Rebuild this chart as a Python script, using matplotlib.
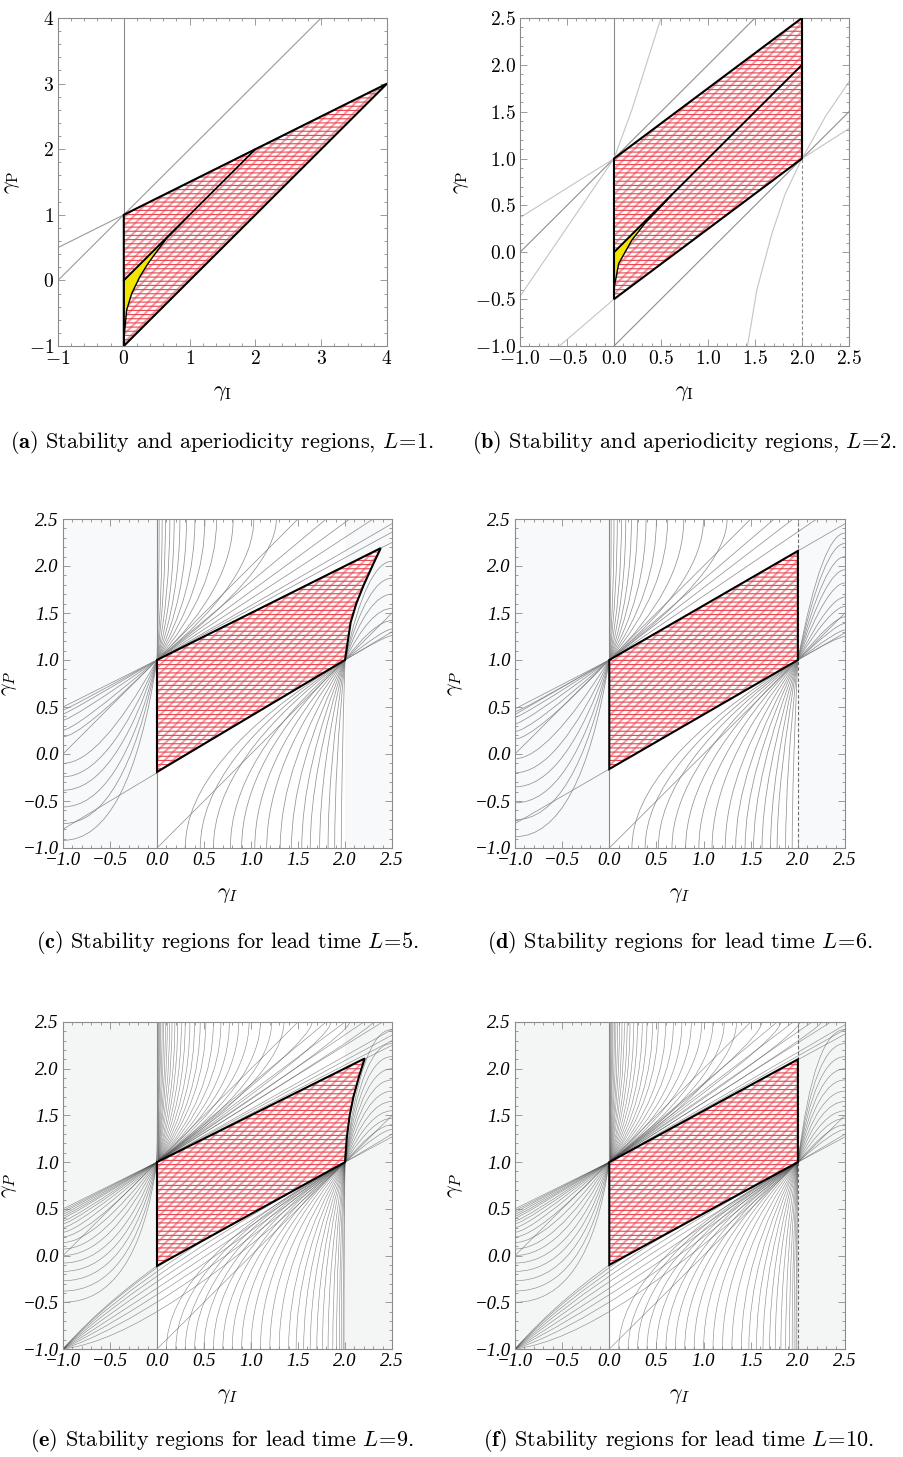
"""Stability regions in the (gamma_I, gamma_P) plane for several lead times L.

Six panels: (a),(b) stability + aperiodicity for L=1,2 and (c)-(f) stability
regions for L=5,6,9,10 with the background families of boundary curves.
"""

import matplotlib

matplotlib.use("Agg")
import matplotlib.pyplot as plt
import numpy as np
from matplotlib.font_manager import FontProperties
from matplotlib.patches import PathPatch, Polygon, Rectangle
from matplotlib.path import Path
from matplotlib.ticker import MultipleLocator, ScalarFormatter

plt.rcParams["font.family"] = "serif"
plt.rcParams["font.serif"] = ["cmr10", "DejaVu Serif"]
plt.rcParams["mathtext.fontset"] = "cm"
plt.rcParams["axes.formatter.use_mathtext"] = True

# ---------------- (a) L = 1 ----------------
A_REGION_X = [0, 4, 0]
A_REGION_Y = [1, 3, -1]
A_INNER_X = [0, 2]
A_INNER_Y = [0, 2]
A_APER_X = [0, 0.005, 0.044, 0.12, 0.246, 0.37, 0.5, 0.65, 0.8, 1.0]
A_APER_Y = [-1, -0.85, -0.45, -0.2, 0.06, 0.26, 0.44, 0.64, 0.79, 1.0]
A_LINES = [(-1, 0, 3, 4), (-1, 0.5, 0, 1)]
A_TICKS = [-1, 0, 1, 2, 3, 4]

# ---------------- (b) L = 2 ----------------
B_REGION_X = [0, 2, 2, 0]
B_REGION_Y = [1, 2.5, 1, -0.5]
B_INNER_X = [0, 2]
B_INNER_Y = [0, 2]
B_APER_X = [0, 0.005, 0.05, 0.19, 0.33, 0.475, 0.62]
B_APER_Y = [-0.5, -0.36, -0.12, 0.13, 0.31, 0.46, 0.62]
B_LINES = [(-1, 0, 1.5, 2.5), (0, -1, 2.5, 1.5)]
B_LIGHT = [(-1, 0.37, 0, 1), (-0.58, -1, 0, -0.5), (2, 1, 2.5, 1.32)]
B_CURVE1_X = [-1, 0, 0.19, 0.5]
B_CURVE1_Y = [-0.47, 1, 1.52, 2.5]
B_CURVE2_X = [1.42, 1.52, 1.68, 1.82, 2, 2.25, 2.5]
B_CURVE2_Y = [-1, -0.4, 0.2, 0.62, 1, 1.45, 1.82]

TICKS_HALF = [-1.0, -0.5, 0.0, 0.5, 1.0, 1.5, 2.0, 2.5]

# ---------------- (c) L = 5 ----------------
C_REGION_X = [0, 2.38, 2.3, 2.2, 2.12, 2.06, 2.03, 2.0, 0]
C_REGION_Y = [1, 2.19, 2.02, 1.8, 1.6, 1.4, 1.2, 1.0, -0.19]
C_LINES = [(0, 1, 2.5, 2.25), (0, 1, 2.5, 2.36), (0, 1, 2.5, 2.45), (0, 1, 2.3, 2.5),
           (0, 1, 2.05, 2.5), (0, 1, 1.8, 2.5), (-1, 0, 1.5, 2.5), (-1, 0.5, 0, 1),
           (0, -1, 2.5, 1.5), (-1, -0.8, 2.5, 1.3)]
C_UP_X = [0.023, 0.055, 0.09, 0.137, 0.183, 0.244, 0.315, 0.404, 0.51, 0.635, 0.81, 1.03, 1.27]
C_UP_S = [30, 13, 8, 5, 3.6, 2.7, 2.1, 1.7, 1.4, 1.15, 0.95, 0.82, 0.75]
C_LEFT_Y = [0.467, 0.425, 0.36, 0.254, 0.183, -0.1, -0.243, -0.386, -0.563, -0.741, -0.919]
C_LEFT_S = [0.55, 0.6, 0.7, 0.85, 1.0, 1.8, 2.4, 3.1, 4.0, 5.0, 6.5]
C_DOWN_X = [0.30, 0.46, 0.60, 0.78, 0.90, 1.04, 1.167, 1.31, 1.43, 1.54, 1.63, 1.73, 1.82, 1.89, 1.96]
C_DOWN_S = [0.62, 0.68, 0.75, 0.85, 0.95, 1.1, 1.3, 1.6, 2.0, 2.5, 3.2, 4.2, 6, 10, 30]
C_RIGHT_Y = [1.26, 1.33, 1.42, 1.55, 1.7, 1.87, 2.05]
C_RIGHT_S = [0.6, 0.8, 1.3, 2.0, 2.8, 3.6, 4.5]

# ---------------- (d) L = 6 ----------------
D_REGION_X = [0, 2, 2, 0]
D_REGION_Y = [1, 2.16, 1, -0.16]
D_LINES = [(0, 1, 2.5, 2.45), (0, 1, 2.2, 2.5), (0, 1, 1.95, 2.5), (0, 1, 1.75, 2.5),
           (-1, 0, 1.5, 2.5), (-1, 0.42, 0, 1), (-1, 0.48, 0, 1),
           (0, -1, 2.5, 1.5), (-1, -0.74, 2.5, 1.29)]
D_UP_X = [0.02, 0.05, 0.085, 0.13, 0.175, 0.235, 0.3, 0.39, 0.5, 0.62, 0.79, 1.0, 1.25]
D_UP_S = [35, 14, 8.5, 5.3, 3.8, 2.8, 2.2, 1.75, 1.42, 1.18, 0.97, 0.84, 0.76]
D_LEFT_Y = [0.45, 0.39, 0.32, 0.24, 0.16, -0.05, -0.2, -0.35, -0.52, -0.7, -0.88]
D_LEFT_S = [0.58, 0.65, 0.75, 0.9, 1.05, 1.6, 2.2, 2.9, 3.8, 4.8, 6.2]
D_DOWN_X = [0.24, 0.38, 0.52, 0.665, 0.81, 0.95, 1.09, 1.23, 1.34, 1.44, 1.53, 1.62, 1.71, 1.78, 1.87, 1.94]
D_DOWN_S = [0.62, 0.68, 0.74, 0.82, 0.92, 1.05, 1.22, 1.45, 1.75, 2.1, 2.6, 3.3, 4.3, 5.8, 9, 20]
D_RIGHT_Y = [1.25, 1.32, 1.39, 1.46, 1.57, 1.67, 1.82, 1.96, 2.1, 2.24, 2.35]
D_RIGHT_S = [0.6, 0.75, 0.95, 1.2, 1.6, 2.0, 2.6, 3.2, 3.8, 4.5, 5.2]

# ---------------- (e) L = 9 ----------------
E_REGION_X = [0, 2.21, 2.15, 2.09, 2.05, 2.02, 2.0, 0]
E_REGION_Y = [1, 2.11, 1.92, 1.70, 1.5, 1.27, 1.0, -0.11]
E_LINES = [(0, 1, 2.5, 2.25), (0, 1, 2.5, 2.3), (0, 1, 2.5, 2.36), (0, 1, 2.5, 2.42),
           (0, 1, 2.4, 2.5), (0, 1, 2.2, 2.5), (0, 1, 2.0, 2.5), (0, 1, 1.8, 2.5),
           (-1, 0, 1.5, 2.5), (-1, 0.5, 0, 1), (-1, 0.48, 0, 1), (-1, 0.46, 0, 1),
           (0, -1, 2.5, 1.5), (2, 1, 2.5, 1.27), (2, 1, 2.5, 1.3)]
E_UP_X = [0.005, 0.012, 0.02, 0.03, 0.04, 0.055, 0.07, 0.09, 0.11, 0.135, 0.16, 0.19, 0.22,
          0.26, 0.3, 0.35, 0.4, 0.46, 0.52, 0.6, 0.68, 0.77, 0.87, 0.98, 1.1, 1.22, 1.35,
          1.65, 1.85, 2.05, 2.3]
E_UP_S = [100, 60, 40, 28, 20, 15, 11, 8.5, 7, 5.5, 4.5, 3.7, 3.1, 2.6, 2.2, 1.9, 1.65,
          1.45, 1.3, 1.15, 1.05, 0.95, 0.88, 0.82, 0.77, 0.73, 0.7, 0.78, 0.7, 0.66, 0.62]
E_LEFT_Y = [0.44, 0.42, 0.40, 0.37, 0.34, 0.30, 0.25, 0.2, 0.14, 0.07, 0.0, -0.08, -0.17,
            -0.27, -0.38, -0.5]
E_LEFT_S = [0.57, 0.6, 0.63, 0.68, 0.73, 0.8, 0.9, 1.05, 1.3, 1.6, 2.0, 2.6, 3.3, 4.2, 5.5, 7]
E_DOWN_X = [0.1, 0.2, 0.3, 0.4, 0.5, 0.6, 0.7, 0.8, 0.9, 1.0, 1.1, 1.2, 1.3, 1.4, 1.48, 1.56,
            1.63, 1.7, 1.76, 1.82, 1.87, 1.91, 1.94, 1.96, 1.98, 1.99]
E_DOWN_S = [0.56, 0.58, 0.6, 0.63, 0.66, 0.7, 0.75, 0.8, 0.87, 0.95, 1.05, 1.2, 1.4, 1.65,
            1.95, 2.3, 2.8, 3.4, 4.2, 5.5, 7, 9, 13, 20, 40, 80]
E_RIGHT_Y = [1.35, 1.4, 1.47, 1.55, 1.65, 1.76, 1.88, 2.0, 2.13, 2.27, 2.42]
E_RIGHT_S = [0.9, 1.2, 1.6, 2.1, 2.7, 3.4, 4.2, 5, 6, 7, 8]
E_CORNER_Y = [-0.6, -0.5, -0.42, -0.35, -0.28, -0.22, -0.17, -0.13, -0.11]

# ---------------- (f) L = 10 ----------------
F_REGION_X = [0, 2, 2, 0]
F_REGION_Y = [1, 2.1, 1, -0.1]
F_LINES = [(0, 1, 2.5, 2.37), (0, 1, 2.5, 2.42), (0, 1, 2.5, 2.47), (0, 1, 2.35, 2.5),
           (0, 1, 2.15, 2.5), (0, 1, 1.95, 2.5), (0, 1, 1.78, 2.5),
           (-1, 0, 1.5, 2.5), (-1, 0.5, 0, 1), (-1, 0.48, 0, 1), (-1, 0.46, 0, 1),
           (0, -1, 2.5, 1.5), (2, 1, 2.5, 1.27), (2, 1, 2.5, 1.3)]
F_UP_X = [0.005, 0.012, 0.02, 0.03, 0.04, 0.055, 0.07, 0.09, 0.11, 0.135, 0.16, 0.19, 0.22,
          0.26, 0.3, 0.35, 0.4, 0.46, 0.52, 0.6, 0.68, 0.77, 0.87, 0.98, 1.1, 1.22, 1.35,
          1.62, 1.82, 2.02, 2.25]
F_UP_S = [100, 60, 40, 28, 20, 15, 11, 8.5, 7, 5.5, 4.5, 3.7, 3.1, 2.6, 2.2, 1.9, 1.65,
          1.45, 1.3, 1.15, 1.05, 0.95, 0.88, 0.82, 0.77, 0.73, 0.7, 0.8, 0.72, 0.67, 0.63]
F_LEFT_Y = [0.44, 0.42, 0.40, 0.37, 0.34, 0.30, 0.25, 0.2, 0.14, 0.07, 0.0, -0.08, -0.17,
            -0.27, -0.38, -0.5]
F_LEFT_S = [0.57, 0.6, 0.63, 0.68, 0.73, 0.8, 0.9, 1.05, 1.3, 1.6, 2.0, 2.6, 3.3, 4.2, 5.5, 7]
F_DOWN_X = [0.1, 0.2, 0.3, 0.4, 0.5, 0.6, 0.7, 0.8, 0.9, 1.0, 1.1, 1.2, 1.3, 1.4, 1.48, 1.56,
            1.63, 1.7, 1.76, 1.82, 1.87, 1.91, 1.94, 1.96, 1.98, 1.99]
F_DOWN_S = [0.56, 0.58, 0.6, 0.63, 0.66, 0.7, 0.75, 0.8, 0.87, 0.95, 1.05, 1.2, 1.4, 1.65,
            1.95, 2.3, 2.8, 3.4, 4.2, 5.5, 7, 9, 13, 20, 40, 80]
F_RIGHT_Y = [1.35, 1.4, 1.47, 1.55, 1.65, 1.76, 1.88, 2.0, 2.13, 2.27, 2.42]
F_RIGHT_S = [0.9, 1.2, 1.6, 2.1, 2.7, 3.4, 4.2, 5, 6, 7, 8]
F_CORNER_Y = [-0.6, -0.5, -0.42, -0.35, -0.28, -0.22, -0.17, -0.13, -0.1]

CAPTIONS = [
    r"$\mathbf{(a)}$ Stability and aperiodicity regions, $L\!=\!1$.",
    r"$\mathbf{(b)}$ Stability and aperiodicity regions, $L\!=\!2$.",
    r"$\mathbf{(c)}$ Stability regions for lead time $L\!=\!5$.",
    r"$\mathbf{(d)}$ Stability regions for lead time $L\!=\!6$.",
    r"$\mathbf{(e)}$ Stability regions for lead time $L\!=\!9$.",
    r"$\mathbf{(f)}$ Stability regions for lead time $L\!=\!10$.",
]

FRAME = "#8c8c8c"
PIV_A = (0.0, 1.0)
PIV_B = (2.0, 1.0)


def fan(ax, pivot, ends_x, ends_y, slopes, kind, **kw):
    """Quadratic curves leaving the pivot with the given slope and ending at the edge."""
    px, py = pivot
    for ex, ey, s in zip(ends_x, ends_y, slopes):
        if kind == "h":
            cx, cy = ex, py + s * (ex - px)
            if abs(cy - py) > abs(ey - py):
                cy = ey
        else:
            cx, cy = px + (ey - py) / s, ey
            if abs(cx - px) > abs(ex - px):
                cx = ex
        path = Path([(px, py), (cx, cy), (ex, ey)], [Path.MOVETO, Path.CURVE3, Path.CURVE3])
        ax.add_patch(PathPatch(path, fill=False, zorder=1, **kw))


def corner_fan(ax, ys, **kw):
    """Curves from (-1,-1) to (2,1) crossing x=0 at the given heights."""
    for y0 in ys:
        yc = (y0 + 0.172) / 0.485
        path = Path([(-1, -1), (0, yc), (2, 1)], [Path.MOVETO, Path.CURVE3, Path.CURVE3])
        ax.add_patch(PathPatch(path, fill=False, zorder=1, **kw))


def segments(ax, segs, **kw):
    for x0, y0, x1, y1 in segs:
        ax.plot([x0, x1], [y0, y1], zorder=1, **kw)


def hatched_region(ax, xs, ys):
    xy = np.column_stack([xs, ys])
    p1 = Polygon(xy, closed=True, facecolor="white", edgecolor="#f39aa1",
                 hatch="////", lw=0, zorder=2)
    p2 = Polygon(xy, closed=True, facecolor="none", edgecolor="#e9444f",
                 hatch="----", lw=0, zorder=2.1)
    for p, hw in ((p1, 1.5), (p2, 0.8)):
        if hasattr(p, "set_hatch_linewidth"):
            p.set_hatch_linewidth(hw)
        ax.add_patch(p)
    ax.add_patch(Polygon(xy, closed=True, fill=False, edgecolor="black", lw=1.5, zorder=4))


def style_axes(ax, lims, ticks, minor, italic, ylab_x):
    ax.set_xlim(*lims)
    ax.set_ylim(*lims)
    ax.set_xticks(ticks)
    ax.set_yticks(ticks)
    ax.xaxis.set_minor_locator(MultipleLocator(minor))
    ax.yaxis.set_minor_locator(MultipleLocator(minor))
    for s in ax.spines.values():
        s.set_color(FRAME)
        s.set_linewidth(0.8)
    ax.tick_params(which="both", direction="in", top=True, right=True, color=FRAME, width=0.6)
    ax.tick_params(which="major", length=5)
    ax.tick_params(which="minor", length=2.5)
    if italic:
        for axis in (ax.xaxis, ax.yaxis):
            axis.set_major_formatter(ScalarFormatter(useMathText=False))
        fp = FontProperties(family="Liberation Serif", style="italic", size=13.5)
        for t in ax.get_xticklabels() + ax.get_yticklabels():
            t.set_fontproperties(fp)
        ax.tick_params(which="major", pad=3)
        ax.set_xlabel(r"$\gamma_I$", fontsize=16)
        ax.set_ylabel(r"$\gamma_P$", fontsize=16)
    else:
        ax.tick_params(labelsize=14, pad=3)
        ax.set_xlabel(r"$\gamma_\mathrm{I}$", fontsize=16)
        ax.set_ylabel(r"$\gamma_\mathrm{P}$", fontsize=16)
    ax.xaxis.set_label_coords(0.5, -0.115)
    ax.yaxis.set_label_coords(ylab_x, 0.5)


def aperiodic(ax, xs, ys):
    xy = np.column_stack([xs + [0], ys + [0]])
    ax.add_patch(Polygon(xy, closed=True, facecolor="#f2e600", edgecolor="black",
                         lw=1.0, zorder=3))


def main():
    fig = plt.figure(figsize=(9.04, 14.57), dpi=100)
    rects = [
        [58 / 904, 1 - 346 / 1457, 329 / 904, 328 / 1457],
        [520 / 904, 1 - 346 / 1457, 329 / 904, 328 / 1457],
        [63 / 904, 1 - 848 / 1457, 329 / 904, 329 / 1457],
        [515 / 904, 1 - 848 / 1457, 330 / 904, 329 / 1457],
        [63 / 904, 1 - 1349 / 1457, 329 / 904, 327 / 1457],
        [515 / 904, 1 - 1349 / 1457, 330 / 904, 327 / 1457],
    ]
    axs = [fig.add_axes(r) for r in rects]

    # (a)
    ax = axs[0]
    ax.axvline(0, color="#8a8a8a", lw=0.8, zorder=1)
    segments(ax, A_LINES, color="#9a9a9a", lw=0.8)
    hatched_region(ax, A_REGION_X, A_REGION_Y)
    aperiodic(ax, A_APER_X, A_APER_Y)
    ax.plot(A_INNER_X, A_INNER_Y, color="black", lw=1.3, zorder=4)
    style_axes(ax, (-1, 4), A_TICKS, 0.2, False, -0.11)

    # (b)
    ax = axs[1]
    ax.axvline(0, color="#8a8a8a", lw=0.8, zorder=1)
    ax.axvline(2, color="#8a8a8a", lw=0.8, ls=(0, (3, 2)), zorder=1)
    segments(ax, B_LINES, color="#8f8f8f", lw=0.8)
    segments(ax, B_LIGHT, color="#c4c4c4", lw=0.8)
    ax.plot(B_CURVE1_X, B_CURVE1_Y, color="#c4c4c4", lw=0.8, zorder=1)
    ax.plot(B_CURVE2_X, B_CURVE2_Y, color="#c4c4c4", lw=0.8, zorder=1)
    hatched_region(ax, B_REGION_X, B_REGION_Y)
    aperiodic(ax, B_APER_X, B_APER_Y)
    ax.plot(B_INNER_X, B_INNER_Y, color="black", lw=1.3, zorder=4)
    style_axes(ax, (-1, 2.5), TICKS_HALF, 0.1, False, -0.15)

    panels = [
        (axs[2], C_REGION_X, C_REGION_Y, C_LINES, C_UP_X, C_UP_S, C_LEFT_Y, C_LEFT_S,
         C_DOWN_X, C_DOWN_S, C_RIGHT_Y, C_RIGHT_S, [], False, False, "#f7f9fb", -0.135),
        (axs[3], D_REGION_X, D_REGION_Y, D_LINES, D_UP_X, D_UP_S, D_LEFT_Y, D_LEFT_S,
         D_DOWN_X, D_DOWN_S, D_RIGHT_Y, D_RIGHT_S, [], False, True, "#f7f9fb", -0.15),
        (axs[4], E_REGION_X, E_REGION_Y, E_LINES, E_UP_X, E_UP_S, E_LEFT_Y, E_LEFT_S,
         E_DOWN_X, E_DOWN_S, E_RIGHT_Y, E_RIGHT_S, E_CORNER_Y, True, False, "#f4f5f5", -0.135),
        (axs[5], F_REGION_X, F_REGION_Y, F_LINES, F_UP_X, F_UP_S, F_LEFT_Y, F_LEFT_S,
         F_DOWN_X, F_DOWN_S, F_RIGHT_Y, F_RIGHT_S, F_CORNER_Y, True, True, "#f4f5f5", -0.15),
    ]
    for (ax, rx, ry, lines, upx, ups, lfy, lfs, dnx, dns, rty, rts,
         corner, dense, dashed2, shade, ylab_x) in panels:
        if dense:
            kw = dict(color="#474747", lw=0.45, alpha=0.6)
        else:
            kw = dict(color="#808080", lw=0.55, alpha=0.85)
        ax.add_patch(Rectangle((-1, -1), 1, 3.5, facecolor=shade, lw=0, zorder=0))
        ax.add_patch(Rectangle((2, -1), 0.5, 3.5, facecolor=shade, lw=0, zorder=0))
        segments(ax, lines, **kw)
        fan(ax, PIV_A, upx, [2.5] * len(upx), ups, "h", **kw)
        fan(ax, PIV_A, [-1] * len(lfy), lfy, lfs, "v", **kw)
        fan(ax, PIV_B, dnx, [-1] * len(dnx), dns, "h", **kw)
        fan(ax, PIV_B, [2.5] * len(rty), rty, rts, "v", **kw)
        corner_fan(ax, corner, **kw)
        ax.axvline(0, color="#8a8a8a", lw=0.8, zorder=1.5)
        if dashed2:
            ax.axvline(2, color="#6a6a6a", lw=0.8, ls=(0, (3, 2)), zorder=1.5)
        hatched_region(ax, rx, ry)
        style_axes(ax, (-1, 2.5), TICKS_HALF, 0.1, True, ylab_x)

    cap_pos = [(222, 442), (685, 442), (228, 943), (680, 943), (222, 1441), (679, 1441)]
    for (cx, cy), text in zip(cap_pos, CAPTIONS):
        fig.text(cx / 904, 1 - cy / 1457, text, ha="center", va="center", fontsize=16)

    fig.savefig("out.png", dpi=100)


if __name__ == "__main__":
    main()
